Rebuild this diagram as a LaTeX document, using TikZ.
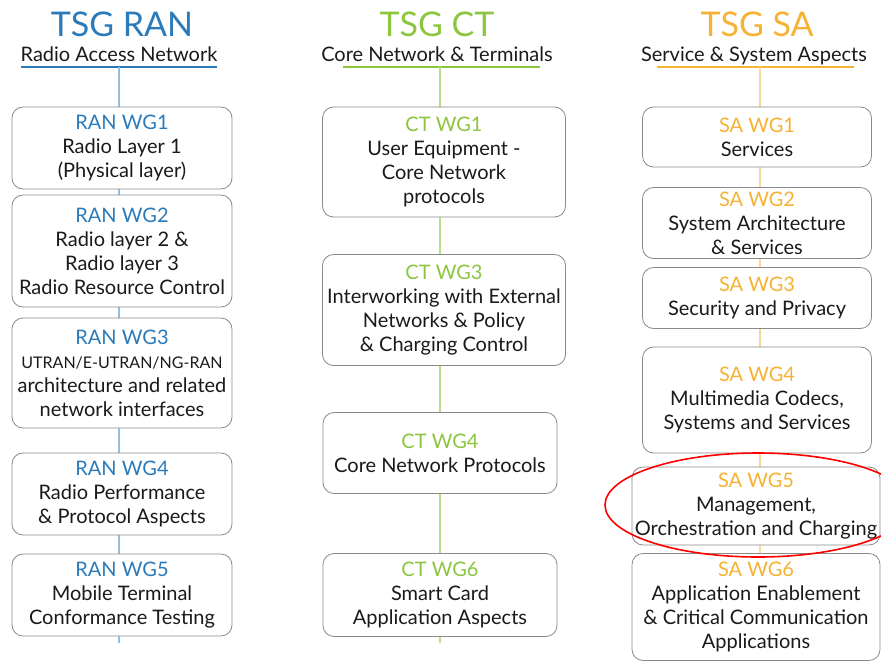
\documentclass[tikz,border=0pt]{standalone}
\usepackage{fontspec}
\setmainfont{Lato}
\definecolor{ranblue}{HTML}{2B7BBA}
\definecolor{ctgreen}{HTML}{8CC63F}
\definecolor{saorange}{HTML}{F6B233}
\definecolor{boxgray}{HTML}{8A8A8A}
\definecolor{ink}{HTML}{1A1A1A}
\begin{document}
\begin{tikzpicture}[x=1pt,y=-1pt,
	every node/.style={inner sep=0pt,align=center,text=ink},
	wg/.style={draw=boxgray,line width=0.8pt,fill=white,rounded corners=11pt,
		font=\fontsize{20}{24}\selectfont},
	tsg/.style={anchor=base,font=\fontsize{34}{36}\selectfont},
	sub/.style={anchor=base,font=\fontsize{20}{22}\selectfont},
	stem/.style={line width=1.2pt}]
\useasboundingbox (0,0) rectangle (881,662);
% headings
\node[tsg,text=ranblue] (ran) at (122,36) {TSG RAN};
\node[sub] (ransub) at (119,61) {Radio Access Network};
\node[tsg,text=ctgreen] (ct) at (437,36) {TSG CT};
\node[sub] (ctsub) at (437,61) {Core Network \& Terminals};
\node[tsg,text=saorange] (sa) at (757,36) {TSG SA};
\node[sub] (sasub) at (754,61) {Service \& System Aspects};
\coordinate (rantop) at (119,67); \coordinate (ranend) at (119,643);
\coordinate (cttop) at (440,67);  \coordinate (ctend) at (440,643);
\coordinate (satop) at (760,67);  \coordinate (saend) at (760,560);
\draw[ranblue,line width=1.5pt] (21,67) -- (217,67);
\draw[ctgreen,line width=1.5pt] (343,67) -- (540,67);
\draw[saorange,line width=1.5pt] (657,67) -- (854,67);
\draw[stem,ranblue!50] (rantop) -- (ranend);
\draw[stem,ctgreen!60] (cttop) -- (ctend);
\draw[stem,saorange!50] (satop) -- (saend);
% RAN working groups
\node[wg,minimum width=220pt,minimum height=82pt] (ranwg1) at (122,148)
	{\textcolor{ranblue}{RAN WG1}\\Radio Layer 1\\(Physical layer)};
\node[wg,minimum width=220pt,minimum height=112pt] (ranwg2) at (122,251)
	{\textcolor{ranblue}{RAN WG2}\\Radio layer 2 \&\\Radio layer 3\\Radio Resource Control};
\node[wg,minimum width=220pt,minimum height=110pt] (ranwg3) at (122,373)
	{\textcolor{ranblue}{RAN WG3}\\{\fontsize{16}{24}\selectfont UTRAN/E-UTRAN/NG-RAN}\\architecture and related\\network interfaces};
\node[wg,minimum width=220pt,minimum height=82pt] (ranwg4) at (122,494)
	{\textcolor{ranblue}{RAN WG4}\\Radio Performance\\\& Protocol Aspects};
\node[wg,minimum width=220pt,minimum height=82pt] (ranwg5) at (122,595)
	{\textcolor{ranblue}{RAN WG5}\\Mobile Terminal\\Conformance Testing};
% CT working groups
\node[wg,minimum width=243pt,minimum height=110pt] (ctwg1) at (444,162)
	{\textcolor{ctgreen}{CT WG1}\\User Equipment -\\Core Network\\protocols};
\node[wg,minimum width=243pt,minimum height=111pt] (ctwg3) at (444,310)
	{\textcolor{ctgreen}{CT WG3}\\Interworking with External\\Networks \& Policy\\\& Charging Control};
\node[wg,minimum width=234pt,minimum height=81pt] (ctwg4) at (440,453)
	{\textcolor{ctgreen}{CT WG4}\\Core Network Protocols};
\node[wg,minimum width=234pt,minimum height=83pt] (ctwg6) at (440,595)
	{\textcolor{ctgreen}{CT WG6}\\Smart Card\\Application Aspects};
% SA working groups
\node[wg,minimum width=229pt,minimum height=60pt] (sawg1) at (757,137)
	{\textcolor{saorange}{SA WG1}\\Services};
\node[wg,minimum width=229pt,minimum height=71pt] (sawg2) at (757,223)
	{\textcolor{saorange}{SA WG2}\\System Architecture\\\& Services};
\node[wg,minimum width=229pt,minimum height=61pt] (sawg3) at (757,298)
	{\textcolor{saorange}{SA WG3}\\Security and Privacy};
\node[wg,minimum width=229pt,minimum height=106pt] (sawg4) at (757,400)
	{\textcolor{saorange}{SA WG4}\\Multimedia Codecs,\\Systems and Services};
\node[wg,minimum width=248pt,minimum height=78pt] (sawg5) at (756,506)
	{\textcolor{saorange}{SA WG5}\\Management,\\Orchestration and Charging};
\node[wg,minimum width=248pt,minimum height=107pt] (sawg6) at (756,607)
	{\textcolor{saorange}{SA WG6}\\Application Enablement\\\& Critical Communication\\Applications};
% highlight
\draw[red,line width=1.6pt] (758,505) ellipse [x radius=153pt,y radius=52pt];
\end{tikzpicture}
\end{document}
